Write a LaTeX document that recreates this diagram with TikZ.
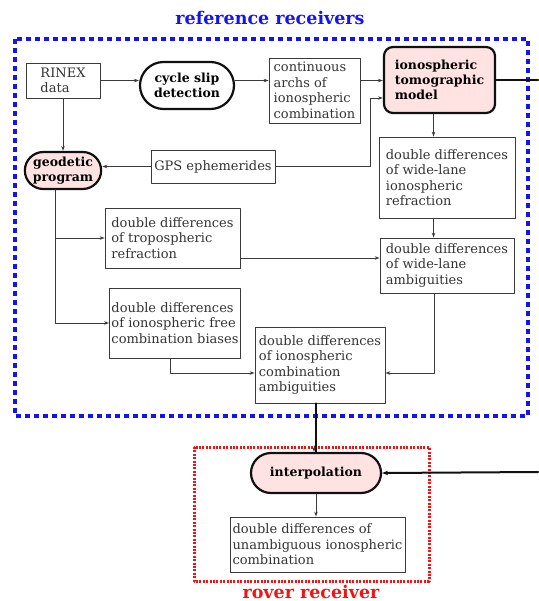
\documentclass[tikz,border=0pt]{standalone}
\usepackage{fontspec}
\setmainfont{DejaVu Serif}
\usepackage{xcolor}
\usetikzlibrary{arrows.meta, calc, shapes.misc}
\definecolor{inkC}{HTML}{101010}
\definecolor{lineC}{HTML}{3A3A3A}
\definecolor{refC}{HTML}{1414F2}
\definecolor{roverC}{HTML}{F21414}
\definecolor{pinkC}{HTML}{FFE3E3}
\newcommand{\boxfont}{\fontsize{13}{15.5}\selectfont}
\newcommand{\pillfont}{\fontsize{12.5}{15}\selectfont\bfseries}
\newcommand{\titlefont}{\fontsize{17.5}{20}\selectfont\bfseries}

\begin{document}
\begin{tikzpicture}[
  x=1pt,
  y=-1pt,
  line cap=round,
  line join=round,
  box/.style={draw=lineC, line width=0.8pt, fill=white, align=left,
    font=\boxfont, text=inkC!85, inner sep=2pt},
  pill/.style={rounded rectangle, draw=inkC, line width=2.2pt, fill=white,
    align=center, font=\pillfont, inner sep=2pt},
  arr/.style={draw=lineC, line width=0.8pt, -{Stealth[length=5pt,width=3.5pt]}},
  heavy/.style={draw=inkC, line width=2pt}
]

\useasboundingbox (0,0) rectangle (538,601);

% Frames and titles
\draw[refC, line width=3.5pt, line cap=butt, dash pattern=on 5pt off 4pt]
  (15,39) rectangle (528,416);
\node[font=\titlefont, text=refC] (reftitle) at (270,18) {reference receivers};
\draw[roverC, line width=3pt, line cap=butt, dash pattern=on 2pt off 1.4pt]
  (194,447) rectangle (429,581);
\node[font=\titlefont, text=roverC, anchor=base] (rovertitle) at (311,598) {rover receiver};

% Reference receivers
\node[box, minimum width=74, minimum height=35] (rinex) at (63,80.5) {RINEX\\data};
\node[pill, minimum width=98, minimum height=47] (slip) at (187,85.5) {cycle slip\\detection};
\node[box, minimum width=91, minimum height=65] (arcs) at (314.5,90.5)
  {continuous\\archs of\\ionospheric\\combination};
\node[draw=inkC, line width=2.2pt, fill=pinkC, rounded corners=9pt, align=left,
  font=\pillfont, minimum width=111, minimum height=66] (model) at (439.5,80)
  {ionospheric\\tomographic\\model};
\node[box, minimum width=124, minimum height=33] (gps) at (213,166.5) {GPS ephemerides};
\node[pill, fill=pinkC, minimum width=74, minimum height=37] (geodetic) at (63,170.5)
  {geodetic\\program};
\node[box, minimum width=136, minimum height=81] (wlir) at (447,177.5)
  {double differences\\of wide-lane\\ionospheric\\refraction};
\node[box, minimum width=135, minimum height=60] (tropo) at (172.5,238)
  {double differences\\of tropospheric\\refraction};
\node[box, minimum width=134, minimum height=55] (wla) at (447,265.5)
  {double differences\\of wide-lane\\ambiguities};
\node[box, minimum width=130, minimum height=70] (ifree) at (175,323)
  {double differences\\of ionospheric free\\combination biases};
\node[box, minimum width=130, minimum height=76] (combo) at (320,365)
  {double differences\\of ionospheric\\combination\\ambiguities};

% Rover receiver
\node[pill, fill=pinkC, minimum width=134, minimum height=40] (interp) at (316,473)
  {interpolation};
\node[box, minimum width=175, minimum height=55] (unamb) at (317.5,544.5)
  {double differences of\\unambiguous ionospheric\\combination};

\coordinate (edgeA) at (538,80);
\coordinate (edgeB) at (538,472);

% Connectors
\draw[arr] (rinex.east) -- (rinex.east -| slip.west);
\draw[arr] (slip.east |- rinex.east) -- (rinex.east -| arcs.west);
\draw[arr] (arcs.east |- rinex.east) -- (rinex.east -| model.west);
\draw[arr] (gps.east) -- ++(95,0) |- ([yshift=-18pt]model.west);
\draw[arr] (gps.west) -- (gps.west -| geodetic.east);
\draw[arr] (rinex.south) -- (geodetic.north);
\draw[heavy] (model.east) -- (edgeA);
\draw[arr] ([xshift=-6pt]model.south) -- ([xshift=-6pt]model.south |- wlir.north);
\draw[arr] ([xshift=-6pt]model.south |- wlir.south) -- ([xshift=-6pt]model.south |- wla.north);
\draw[arr] ([xshift=-8pt]geodetic.south) |- (tropo.west);
\draw[arr] ([xshift=-8pt]geodetic.south) |- (ifree.west);
\draw[arr] ([yshift=-20pt]tropo.east) -- ([yshift=-20pt]tropo.east -| wla.west);
\draw[arr] ([xshift=-5pt]ifree.south) |- ([yshift=-8pt]combo.west);
\draw[arr] ([xshift=-5pt]model.south |- wla.south) |- ([yshift=-8pt]combo.east);
\draw[heavy] (interp.north |- combo.south) -- (interp.north);
\draw[arr] ([xshift=-2pt]interp.north) ++(0,-6) -- ([xshift=-2pt]interp.north);
\draw[heavy, -{Stealth[length=6pt,width=4.5pt]}] (edgeB) -- (interp.east);
\draw[arr] (interp.south) -- (interp.south |- unamb.north);

\end{tikzpicture}
\end{document}
